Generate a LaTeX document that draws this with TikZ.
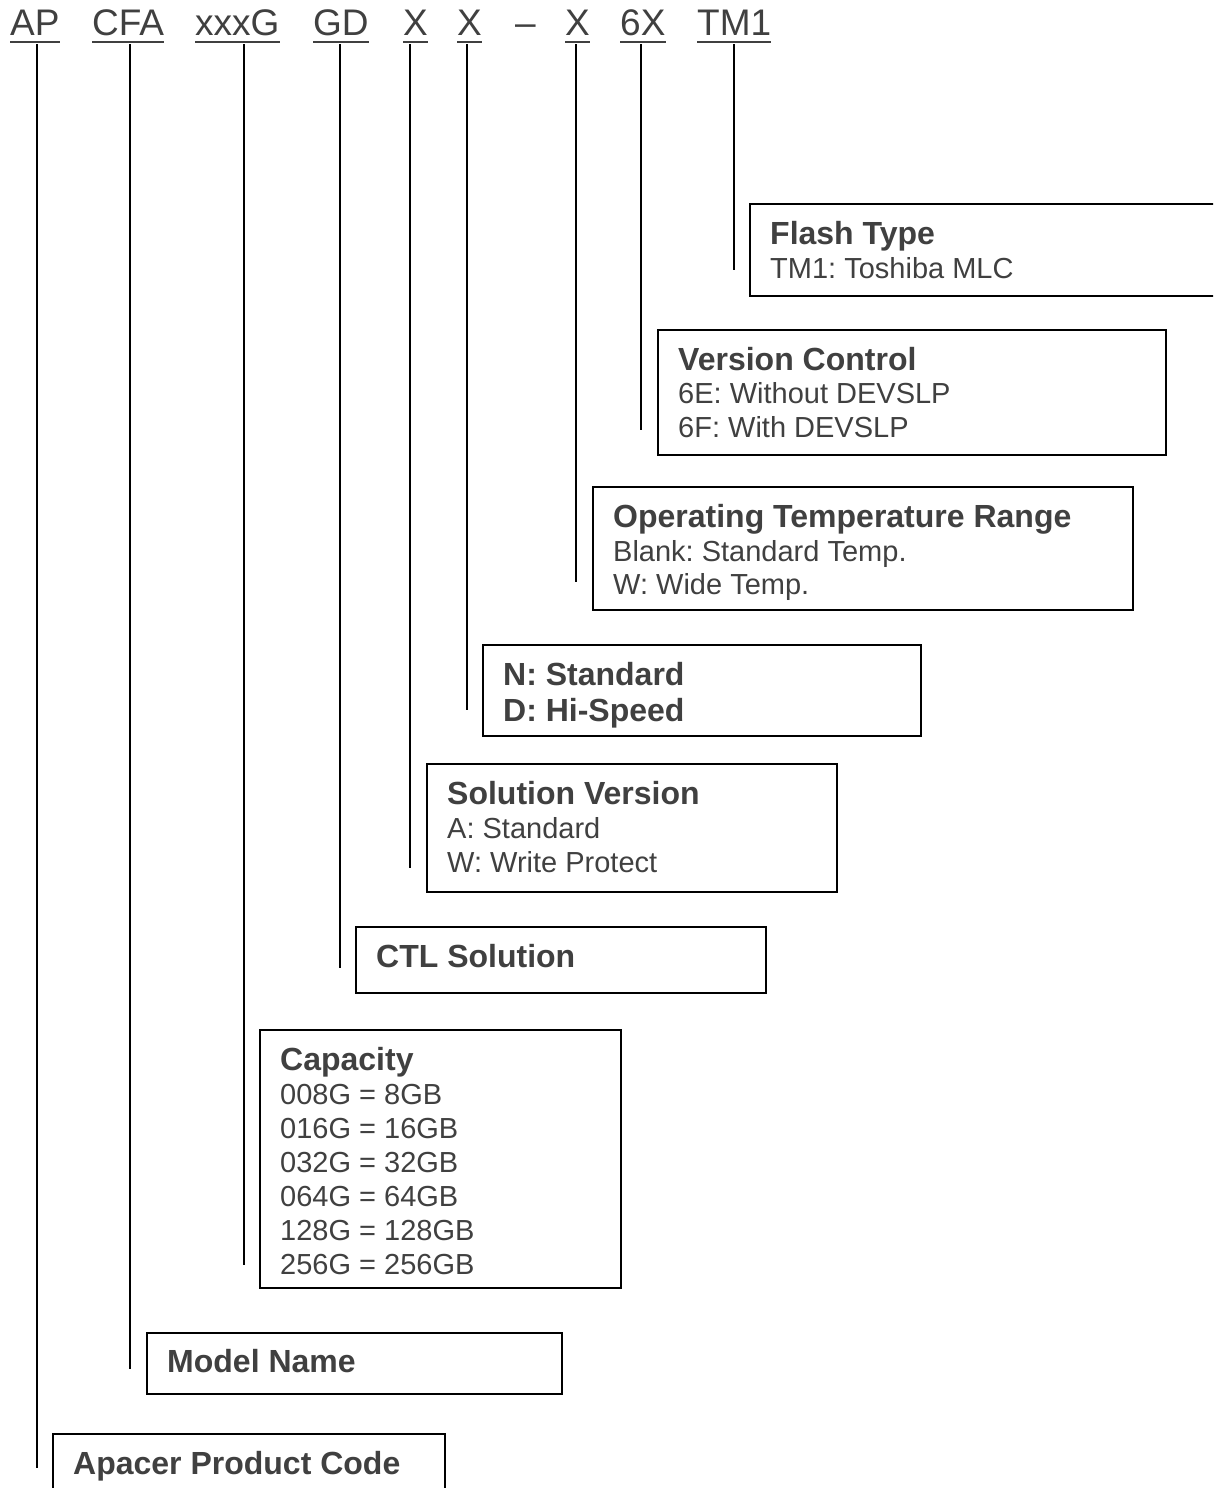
\documentclass[tikz,border=0pt]{standalone}
\usepackage{fontspec}
\setmainfont{Liberation Sans}
\definecolor{txt}{HTML}{404040}
\AtBeginDocument{\frenchspacing}
\begin{document}
\begin{tikzpicture}[x=1pt,y=-1pt,
  box/.style={draw=black, line width=1.8pt, rectangle, inner sep=0pt, anchor=north west},
  tok/.style={anchor=base west, inner sep=0pt, text=txt, font=\fontsize{37}{44}\selectfont, text height=27pt, text depth=8pt},
  ttl/.style={anchor=base west, inner sep=0pt, text=txt, font=\fontsize{32}{38}\selectfont\bfseries},
  body/.style={anchor=base west, inner sep=0pt, text=txt, font=\fontsize{29}{34}\selectfont},
  conn/.style={draw=black, line width=1.8pt},
  ul/.style={draw=txt, line width=2.6pt}]
\useasboundingbox (0,0) rectangle (1213,1488);
\clip (0,0) rectangle (1213,1488);

% code tokens
\node[tok] (tAP)  at (10,36)  {AP};
\node[tok] (tCFA) at (92,36)  {CFA};
\node[tok] (tCAP) at (195,36) {xxxG};
\node[tok] (tGD)  at (313,36) {GD};
\node[tok] (tX1)  at (403,36) {X};
\node[tok] (tX2)  at (457,36) {X};
\node[tok] (tDash) at (515,36) {–};
\node[tok] (tX3)  at (565,36) {X};
\node[tok] (t6X)  at (620,36) {6X};
\node[tok] (tTM)  at (697,36) {TM1};
\foreach \t in {tAP,tCFA,tCAP,tGD,tX1,tX2,tX3,t6X,tTM}
  \draw[ul] ([yshift=-6pt]\t.base west) -- ([yshift=-6pt]\t.base east);

% boxes
\node[box, minimum width=500pt, minimum height=92pt]  (flashbox) at (749,203)  {};
\node[box, minimum width=508pt, minimum height=125pt] (verbox)   at (657,329)  {};
\node[box, minimum width=540pt, minimum height=123pt] (opbox)    at (592,486)  {};
\node[box, minimum width=438pt, minimum height=91pt]  (ndbox)    at (482,644)  {};
\node[box, minimum width=410pt, minimum height=128pt] (solbox)   at (426,763)  {};
\node[box, minimum width=410pt, minimum height=66pt]  (ctlbox)   at (355,926)  {};
\node[box, minimum width=361pt, minimum height=258pt] (capbox)   at (259,1029) {};
\node[box, minimum width=415pt, minimum height=61pt]  (modbox)   at (146,1332) {};
\node[box, minimum width=392pt, minimum height=100pt] (apbox)    at (52,1433)  {};

% texts
\node[ttl]  (flashT) at (770,244) {Flash Type};
\node[body] (flash1) at (770,278) {TM1: Toshiba MLC};

\node[ttl]  (verT) at (678,370) {Version Control};
\node[body] (ver1) at (678,403) {6E: Without DEVSLP};
\node[body] (ver2) at (678,437) {6F: With DEVSLP};

\node[ttl]  (opT) at (613,527) {Operating Temperature Range};
\node[body] (op1) at (613,561) {Blank: Standard Temp.};
\node[body] (op2) at (613,594) {W: Wide Temp.};

\node[ttl] (nd1) at (503,685) {N: Standard};
\node[ttl] (nd2) at (503,721) {D: Hi-Speed};

\node[ttl]  (solT) at (447,804) {Solution Version};
\node[body] (sol1) at (447,838) {A: Standard};
\node[body] (sol2) at (447,872) {W: Write Protect};

\node[ttl] (ctlT) at (376,967) {CTL Solution};

\node[ttl]  (capT) at (280,1070) {Capacity};
\node[body] (cap1) at (280,1104) {008G = 8GB};
\node[body] (cap2) at (280,1138) {016G = 16GB};
\node[body] (cap3) at (280,1172) {032G = 32GB};
\node[body] (cap4) at (280,1206) {064G = 64GB};
\node[body] (cap5) at (280,1240) {128G = 128GB};
\node[body] (cap6) at (280,1274) {256G = 256GB};

\node[ttl] (modT) at (167,1372) {Model Name};
\node[ttl] (apT)  at (73,1474)  {Apacer Product Code};

% connector ends
\coordinate (eAP)  at (37,1468);
\coordinate (eCFA) at (130,1369);
\coordinate (eCAP) at (244,1265);
\coordinate (eGD)  at (340,968);
\coordinate (eX1)  at (410,868);
\coordinate (eX2)  at (467,710);
\coordinate (eX3)  at (576,582);
\coordinate (e6X)  at (641,430);
\coordinate (eTM)  at (734,270);

\draw[conn] (tAP.south -| eAP) -- (eAP);
\draw[conn] (tCFA.south -| eCFA) -- (eCFA);
\draw[conn] (tCAP.south -| eCAP) -- (eCAP);
\draw[conn] (tGD.south -| eGD) -- (eGD);
\draw[conn] (tX1.south -| eX1) -- (eX1);
\draw[conn] (tX2.south -| eX2) -- (eX2);
\draw[conn] (tX3.south -| eX3) -- (eX3);
\draw[conn] (t6X.south -| e6X) -- (e6X);
\draw[conn] (tTM.south -| eTM) -- (eTM);
\end{tikzpicture}
\end{document}
